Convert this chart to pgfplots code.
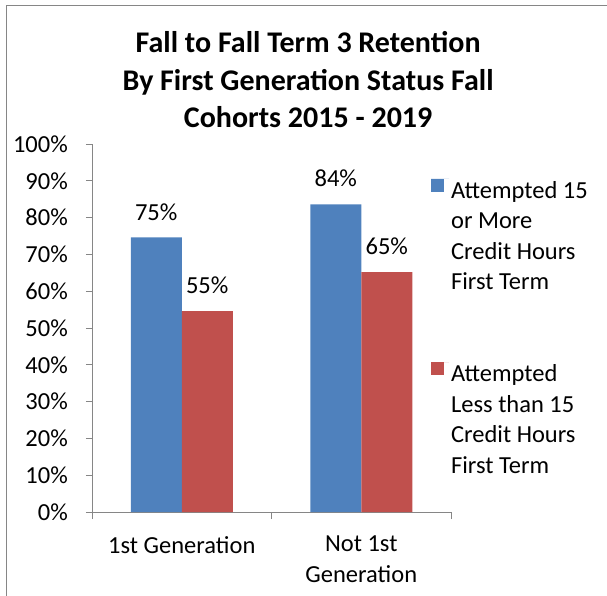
\documentclass[border=0pt]{standalone}
\usepackage{fontspec}
\setmainfont{Carlito}
\usepackage{pgfplots}
\pgfplotsset{compat=1.18}
\definecolor{xblue}{HTML}{4F81BD}
\definecolor{xred}{HTML}{C0504D}
\definecolor{xgray}{HTML}{868686}
\begin{document}
\begin{tikzpicture}
\path[use as bounding box] (0pt,0pt) rectangle (607pt,-596pt);
\draw[xgray, line width=1pt] (6pt,-596pt) -- (6pt,-6pt) -- (607pt,-6pt);
\begin{axis}[
  at={(92pt,-512pt)}, anchor=south west,
  scale only axis, width=359pt, height=368pt,
  xmin=0, xmax=2, ymin=0, ymax=100,
  axis x line*=bottom, axis y line*=left,
  axis line style={xgray, line width=0.8pt},
  every tick/.style={xgray, line width=0.8pt},
  tick align=outside, major tick length=6pt, minor tick length=7pt,
  ybar=0pt, bar width=51pt,
  xtick={0.5,1.5}, xticklabels={1st Generation,{Not 1st\\Generation}},
  minor xtick={0,1,2},
  major x tick style={draw=none},
  ytick={0,10,...,100},
  yticklabel={\pgfmathprintnumber{\tick}\%},
  /pgf/number format/assume math mode=true,
  tick label style={font=\fontsize{24.5}{31}\selectfont},
  x tick label style={align=center, anchor=north, inner sep=0pt, yshift=-18pt},
  y tick label style={anchor=east, inner sep=0pt, xshift=-18pt},
  clip=false,
  nodes near coords={\pgfmathprintnumber[fixed,precision=0]{\pgfplotspointmeta}\%},
  every node near coord/.append style={font=\fontsize{24.5}{31}\selectfont, anchor=south, inner sep=0pt, yshift=17pt, black},
  title={Fall to Fall Term 3 Retention\\By First Generation Status Fall\\Cohorts 2015 - 2019},
  title style={at={(axis description cs:0.602,1)}, anchor=south, inner sep=0pt, yshift=10pt, align=center, font=\fontsize{30}{37.5}\selectfont\bfseries},
  legend style={at={(axis description cs:0.944,0.906)}, anchor=north west, draw=none, fill=none, inner sep=0pt, row sep=69pt, font=\fontsize{24.5}{30.6}\selectfont, cells={anchor=north west, align=left, inner ysep=0pt}},
  legend image code/.code={\path (0pt,0pt) -- (18pt,0pt); \fill[#1] (0pt,-13pt) rectangle (13pt,0pt);},
]
\addplot[fill=xblue, draw=none] coordinates {(0.5,74.6) (1.5,83.6)};
\addplot[fill=xred, draw=none] coordinates {(0.5,54.6) (1.5,65.2)};
\legend{{Attempted 15\\or More\\Credit Hours\\First Term},{Attempted\\Less than 15\\Credit Hours\\First Term}}
\end{axis}
\end{tikzpicture}
\end{document}
